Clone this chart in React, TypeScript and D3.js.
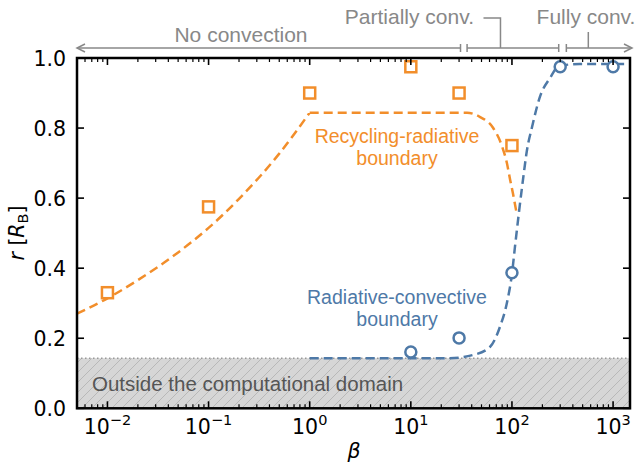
import React from 'react';
import * as d3 from 'd3';

// Simulation results (markers)
const recyclingBeta = [0.01, 0.1, 1, 10, 30, 100];
const recyclingR = [0.33, 0.575, 0.9, 0.975, 0.9, 0.75];
const convectiveBeta = [10, 30, 100, 300, 1000];
const convectiveR = [0.161, 0.201, 0.387, 0.975, 0.975];

// Recycling-radiative boundary model curve (two branches meeting at beta = 1)
const recyclingModelLowBeta = [0.005, 0.01, 0.02, 0.05, 0.1, 0.2, 0.5, 1];
const recyclingModelLowR = [0.27, 0.314, 0.366, 0.445, 0.515, 0.598, 0.727, 0.844];
const recyclingModelHighBeta = [1, 10, 36, 48, 65, 80, 89, 96, 102, 112];
const recyclingModelHighR = [0.844, 0.844, 0.844, 0.832, 0.801, 0.747, 0.701, 0.652, 0.615, 0.552];

// Radiative-convective boundary model curve
const convectiveModelBeta = [1, 24, 41, 60.6, 76, 89, 100, 107, 117, 128.5, 141, 158, 189, 238, 292, 470, 1470];
const convectiveModelR = [0.143, 0.143, 0.152, 0.175, 0.232, 0.3, 0.384, 0.46, 0.557, 0.652, 0.738, 0.803, 0.889, 0.943, 0.977, 0.983, 0.983];

// Lower limit of the computational domain
const domainMinR = 0.143;

// Axis ticks
const xMajorTicks = [0.01, 0.1, 1, 10, 100, 1000];
const xTickExponents = ['−2', '−1', '0', '1', '2', '3'];
const yTicks = [0, 0.2, 0.4, 0.6, 0.8, 1.0];
const yTickLabels = ['0.0', '0.2', '0.4', '0.6', '0.8', '1.0'];

// Regime boundaries along beta and where each label's leader meets its bracket
const regimeBounds = [31, 36, 290, 345];
const partialLeaderBeta = 77;
const fullLeaderBeta = 569;

const ORANGE = '#f28e2b';
const BLUE = '#4e79a7';
const GRAY = '#888888';
const SANS = '"Liberation Sans", Arial, Helvetica, sans-serif';
const DEJAVU = '"DejaVu Sans", sans-serif';

const W = 640;
const H = 470;
const left = 77;
const right = 630;
const top = 58;
const bottom = 408.3;

export default function App() {
  const x = d3.scaleLog().domain([0.005, 1470]).range([left, right]);
  const y = d3.scaleLinear().domain([0, 1]).range([bottom, top]);

  const line = d3
    .line<[number, number]>()
    .x((d) => x(d[0]))
    .y((d) => y(d[1]))
    .curve(d3.curveMonotoneX);

  const zip = (a: number[], b: number[]) => a.map((v, i) => [v, b[i]] as [number, number]);

  const minorTicks: number[] = [];
  for (let e = -3; e <= 3; e++) {
    for (let m = 2; m <= 9; m++) {
      const v = m * Math.pow(10, e);
      if (v > 0.005 && v < 1470) minorTicks.push(v);
    }
  }

  const sq = 11;
  const arrowY = 48;
  const xb = regimeBounds.map((b) => x(b));
  const xPartial = x(partialLeaderBeta);
  const xFull = x(fullLeaderBeta);

  const arrowHead = (px: number, dir: number) =>
    `M${px - dir * 8},${arrowY - 4} L${px},${arrowY} L${px - dir * 8},${arrowY + 4}`;
  const bar = (px: number) => `M${px},${arrowY - 4} L${px},${arrowY + 4}`;

  return (
    <svg
      width={W}
      height={H}
      style={{ position: 'absolute', left: 0, top: 0, background: '#fff' }}
    >
      <defs>
        <pattern id="hatch" patternUnits="userSpaceOnUse" width="10" height="10">
          <rect width="10" height="10" fill="#d6d6d6" />
          <path d="M-1,1 L1,-1 M0,10 L10,0 M9,11 L11,9" stroke="#b0b0b0" strokeWidth="0.8" />
        </pattern>
        <clipPath id="plotClip">
          <rect x={left} y={top} width={right - left} height={bottom - top} />
        </clipPath>
      </defs>

      {/* excluded region */}
      <rect
        x={left}
        y={y(domainMinR)}
        width={right - left}
        height={bottom - y(domainMinR)}
        fill="url(#hatch)"
      />
      <line
        x1={left}
        x2={right}
        y1={y(domainMinR)}
        y2={y(domainMinR)}
        stroke="#999"
        strokeWidth={1.5}
        strokeDasharray="1.5,2.5"
      />
      <text x={92} y={391} fontFamily={SANS} fontSize={20.5} fill="#555">
        Outside the computational domain
      </text>

      <g clipPath="url(#plotClip)" fill="none" strokeWidth={2.5} strokeDasharray="9,5">
        <path d={line(zip(recyclingModelLowBeta, recyclingModelLowR)) || ''} stroke={ORANGE} />
        <path d={line(zip(recyclingModelHighBeta, recyclingModelHighR)) || ''} stroke={ORANGE} />
        <path d={line(zip(convectiveModelBeta, convectiveModelR)) || ''} stroke={BLUE} />
      </g>

      {recyclingBeta.map((b, i) => (
        <rect
          key={'s' + i}
          x={x(b) - sq / 2}
          y={y(recyclingR[i]) - sq / 2}
          width={sq}
          height={sq}
          fill="#fff"
          stroke={ORANGE}
          strokeWidth={2.5}
        />
      ))}
      {convectiveBeta.map((b, i) => (
        <circle
          key={'c' + i}
          cx={x(b)}
          cy={y(convectiveR[i])}
          r={5.5}
          fill="#fff"
          stroke={BLUE}
          strokeWidth={2.5}
        />
      ))}

      {/* curve labels */}
      <g fontFamily={SANS} fontSize={19.5} textAnchor="middle">
        <text x={397} y={143} fill={ORANGE}>
          <tspan x={397}>Recycling-radiative</tspan>
          <tspan x={397} dy={22}>boundary</tspan>
        </text>
        <text x={397} y={303.5} fill={BLUE}>
          <tspan x={397}>Radiative-convective</tspan>
          <tspan x={397} dy={22}>boundary</tspan>
        </text>
      </g>

      {/* ticks */}
      <g stroke="#000">
        {xMajorTicks.map((t, i) => (
          <g key={'xt' + i}>
            <line x1={x(t)} x2={x(t)} y1={bottom} y2={bottom - 7} strokeWidth={1.6} />
            <line x1={x(t)} x2={x(t)} y1={top} y2={top + 7} strokeWidth={1.6} />
          </g>
        ))}
        {minorTicks.map((t, i) => (
          <g key={'xm' + i}>
            <line x1={x(t)} x2={x(t)} y1={bottom} y2={bottom - 4} strokeWidth={1.2} />
            <line x1={x(t)} x2={x(t)} y1={top} y2={top + 4} strokeWidth={1.2} />
          </g>
        ))}
        {yTicks.map((t, i) => (
          <g key={'yt' + i}>
            <line x1={left} x2={left + 7} y1={y(t)} y2={y(t)} strokeWidth={1.6} />
            <line x1={right} x2={right - 7} y1={y(t)} y2={y(t)} strokeWidth={1.6} />
          </g>
        ))}
      </g>

      {/* frame */}
      <rect
        x={left}
        y={top}
        width={right - left}
        height={bottom - top}
        fill="none"
        stroke="#000"
        strokeWidth={2.5}
      />

      {/* tick labels */}
      <g fontFamily={DEJAVU} fontSize={20.5} fill="#000">
        {yTicks.map((t, i) => (
          <text key={'yl' + i} x={66} y={y(t) + 7.5} textAnchor="end">
            {yTickLabels[i]}
          </text>
        ))}
        {xMajorTicks.map((t, i) => (
          <text key={'xl' + i} x={x(t)} y={434} textAnchor="middle">
            10
            <tspan fontSize={14.5} dy={-9}>
              {xTickExponents[i]}
            </tspan>
          </text>
        ))}
      </g>

      {/* axis labels */}
      <text x={354} y={458} fontFamily={DEJAVU} fontSize={20.5} fontStyle="italic" textAnchor="middle">
        β
      </text>
      <text
        transform="translate(24,233) rotate(-90)"
        fontFamily={DEJAVU}
        fontSize={20.5}
        textAnchor="middle"
      >
        <tspan fontStyle="italic">r</tspan>
        <tspan> [</tspan>
        <tspan fontStyle="italic">R</tspan>
        <tspan fontSize={14.5} dy={4}>B</tspan>
        <tspan dy={-4}>]</tspan>
      </text>

      {/* regime annotations */}
      <g stroke={GRAY} strokeWidth={1.5} fill="none">
        <line x1={left} x2={xb[0]} y1={arrowY} y2={arrowY} />
        <path d={arrowHead(left, -1)} />
        <path d={bar(xb[0])} />
        <line x1={xb[1]} x2={xb[2]} y1={arrowY} y2={arrowY} />
        <path d={bar(xb[1])} />
        <path d={bar(xb[2])} />
        <path d={`M${xPartial},${arrowY} L${xPartial},18 L${xPartial - 17},18`} />
        <line x1={xb[3]} x2={632} y1={arrowY} y2={arrowY} />
        <path d={bar(xb[3])} />
        <path d={arrowHead(632, 1)} />
        <path d={`M${xFull},${arrowY} L${xFull},32`} />
      </g>
      <g fontFamily={SANS} fontSize={21} fill={GRAY}>
        <text x={241} y={42} textAnchor="middle">No convection</text>
        <text x={474} y={24} textAnchor="end">Partially conv.</text>
        <text x={586} y={23.5} textAnchor="middle">Fully conv.</text>
      </g>
    </svg>
  );
}
